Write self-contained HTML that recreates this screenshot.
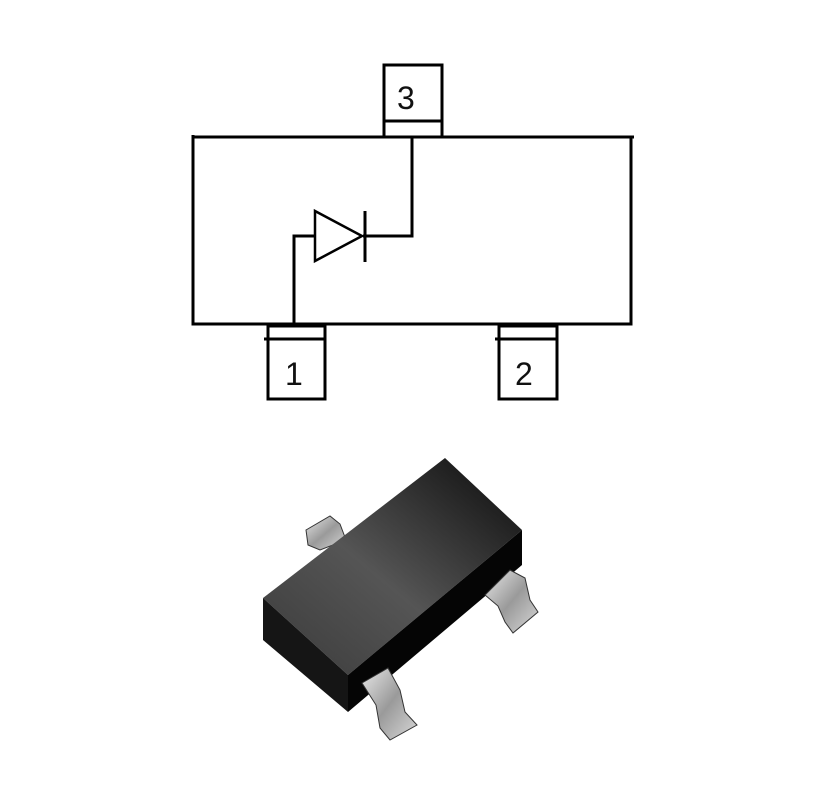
<!DOCTYPE html>
<html><head><style>
body{margin:0;background:#fff;width:820px;height:784px;overflow:hidden}
text{font-family:"Liberation Sans",sans-serif;font-size:32px;fill:#111}
</style></head><body>
<svg width="820" height="784" viewBox="0 0 820 784">
<defs>
<linearGradient id="top" x1="0" y1="1" x2="1" y2="0">
<stop offset="0" stop-color="#3a3a3a"/><stop offset="0.45" stop-color="#555"/><stop offset="1" stop-color="#0a0a0a"/>
</linearGradient>
<linearGradient id="leg" x1="0" y1="0" x2="1" y2="1">
<stop offset="0" stop-color="#e8e8e8"/><stop offset="0.5" stop-color="#9a9a9a"/><stop offset="1" stop-color="#d8d8d8"/>
</linearGradient>
</defs>
<g fill="none" stroke="#000" stroke-width="3">
<path d="M193,135 V324 H631 V137 H634 M193,137 H634"/>
<rect x="384" y="65" width="58" height="72"/>
<line x1="384" y1="121" x2="442" y2="121"/>
<rect x="268" y="326" width="57" height="73"/>
<line x1="264" y1="339" x2="325" y2="339"/>
<rect x="499" y="326" width="58" height="73"/>
<line x1="495" y1="339" x2="557" y2="339"/>
<path d="M412,137 V236 H363"/>
<path d="M294,324 V236 H316"/>
<path d="M315,211 L362,236 L315,261 Z" stroke-width="2.5"/>
<line x1="365" y1="211" x2="365" y2="262"/>
</g>
<text x="397" y="109">3</text>
<text x="285" y="385">1</text>
<text x="515" y="385">2</text>
<path d="M306,530 L330,516 L340,524 L346,540 L320,550 L308,545 Z" fill="url(#leg)" stroke="#333" stroke-width="1"/>
<path d="M263,598 L445,458 L522,530 L348,675 Z" fill="url(#top)"/>
<path d="M263,598 L348,675 L348,712 L263,640 Z" fill="#151515"/>
<path d="M348,675 L522,530 L522,565 L348,712 Z" fill="#050505"/>
<path d="M485,595 L510,570 L525,578 L530,600 L538,612 L513,633 L505,622 L498,606 Z" fill="url(#leg)" stroke="#333" stroke-width="1"/>
<path d="M362,683 L388,668 L400,690 L405,712 L417,725 L390,740 L380,728 L376,705 Z" fill="url(#leg)" stroke="#333" stroke-width="1"/>
</svg>
</body></html>
